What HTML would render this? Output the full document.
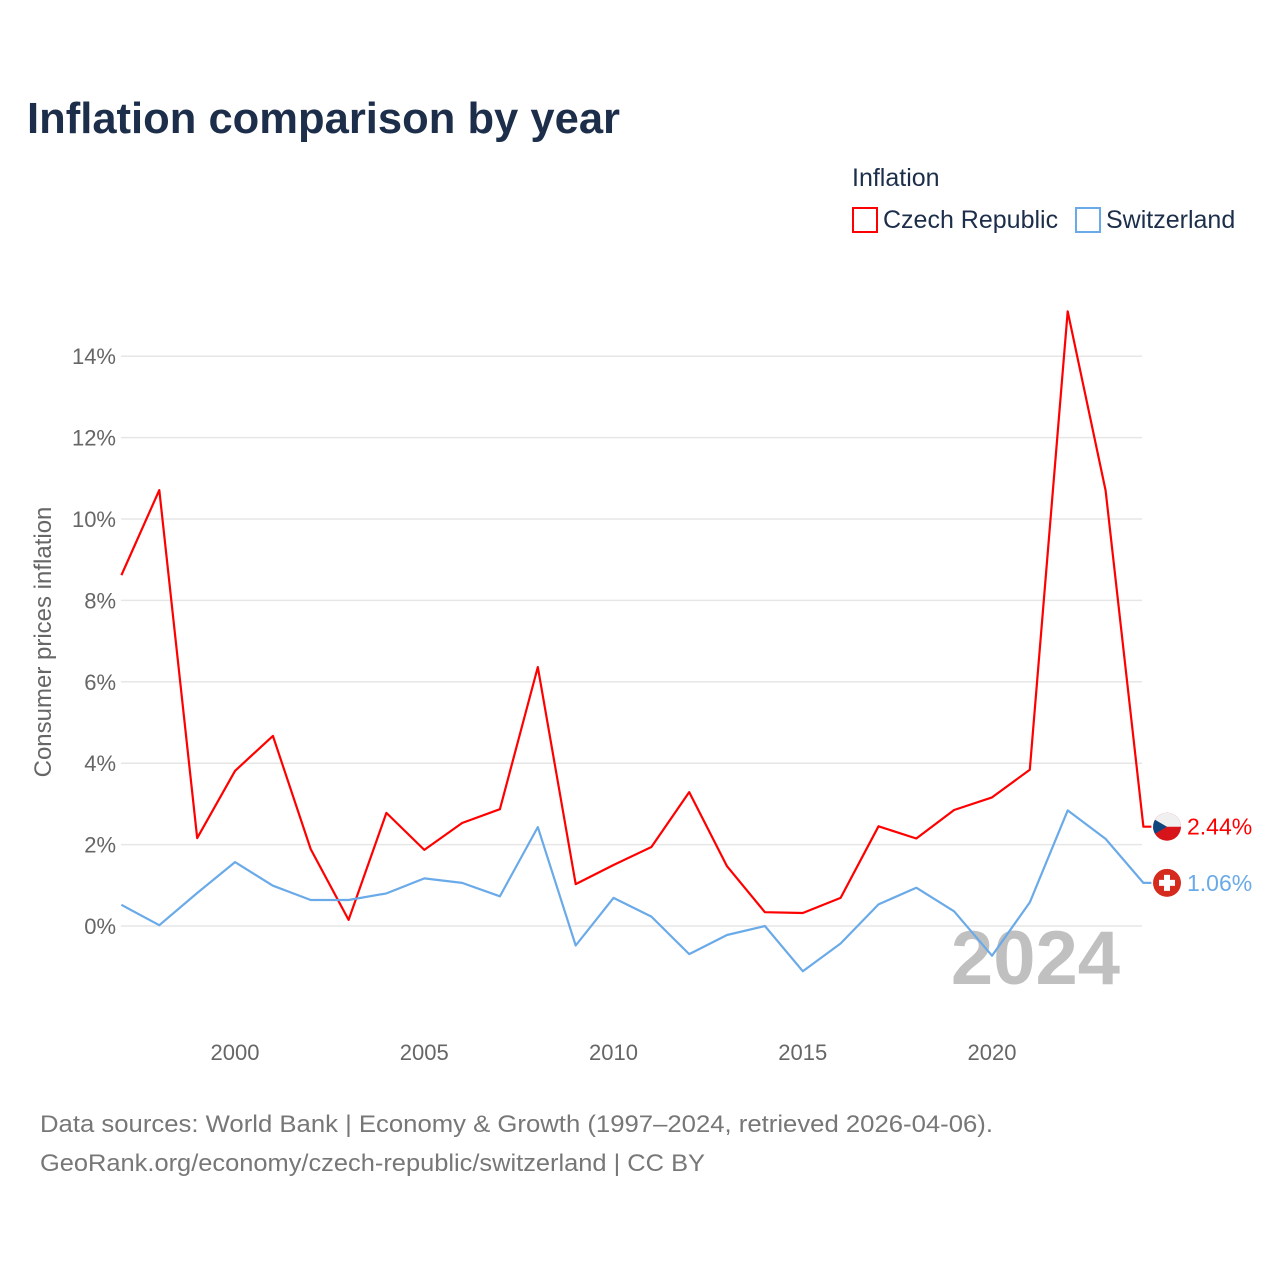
<!DOCTYPE html>
<html><head><meta charset="utf-8">
<style>
body{margin:0;background:#fff;font-family:"Liberation Sans",sans-serif;}
svg text{font-family:"Liberation Sans",sans-serif;}
</style></head>
<body>
<svg width="1280" height="1280" viewBox="0 0 1280 1280">
<text x="27" y="133" font-size="44" font-weight="bold" fill="#1c2e4a" textLength="593" lengthAdjust="spacingAndGlyphs">Inflation comparison by year</text>
<text x="852" y="186" font-size="25" fill="#1c2e4a">Inflation</text>
<g><rect x="853" y="208" width="24" height="24" fill="none" stroke="#ff0000" stroke-width="2"/><text x="883" y="228" font-size="25" fill="#1c2e4a">Czech Republic</text></g>
<g><rect x="1076" y="208" width="24" height="24" fill="none" stroke="#6aaae8" stroke-width="2"/><text x="1106" y="228" font-size="25" fill="#1c2e4a">Switzerland</text></g>
<g id="grid"></g>
<text transform="translate(51,642) rotate(-90)" text-anchor="middle" font-size="24" fill="#666">Consumer prices inflation</text>
<text x="1120" y="984" text-anchor="end" font-size="76" font-weight="bold" fill="#c0c0c0">2024</text>
<g id="series"></g>
<text x="40" y="1132" font-size="24" fill="#777" textLength="953" lengthAdjust="spacingAndGlyphs">Data sources: World Bank | Economy &amp; Growth (1997–2024, retrieved 2026-04-06).</text>
<text x="40" y="1171" font-size="24" fill="#777" textLength="665" lengthAdjust="spacingAndGlyphs">GeoRank.org/economy/czech-republic/switzerland | CC BY</text>
</svg>
<script>
const years=[1997,1998,1999,2000,2001,2002,2003,2004,2005,2006,2007,2008,2009,2010,2011,2012,2013,2014,2015,2016,2017,2018,2019,2020,2021,2022,2023,2024];
const czech=[8.62,10.71,2.16,3.81,4.67,1.89,0.15,2.78,1.87,2.53,2.87,6.36,1.03,1.50,1.94,3.29,1.47,0.34,0.32,0.69,2.45,2.15,2.85,3.16,3.84,15.1,10.7,2.44];
const swiss=[0.52,0.02,0.81,1.57,0.99,0.64,0.64,0.80,1.17,1.06,0.73,2.43,-0.48,0.69,0.23,-0.69,-0.22,0.0,-1.11,-0.43,0.53,0.94,0.36,-0.73,0.58,2.84,2.14,1.06];
const yTicks=[0,2,4,6,8,10,12,14];
const xTicks=[2000,2005,2010,2015,2020];
const NS='http://www.w3.org/2000/svg';
const X=v=>235+(v-2000)*37.85;
const Y=v=>926-v*40.7;
function mk(t,a,p){const e=document.createElementNS(NS,t);for(const k in a)e.setAttribute(k,a[k]);p.appendChild(e);return e;}
const grid=document.getElementById('grid');
yTicks.forEach(t=>{
  const l=mk('line',{x1:121,x2:1142,y1:Y(t),y2:Y(t),stroke:'#e6e6e6','stroke-width':1.5},grid);
  
  
  const tx=mk('text',{x:116,y:Y(t)+8,'text-anchor':'end','font-size':22,fill:'#666'},grid);
  tx.textContent=t+'%';
  
  
});
xTicks.forEach(t=>{
  const tx=mk('text',{x:X(t),y:1060,'text-anchor':'middle','font-size':22,fill:'#666'},grid);
  tx.textContent=t;
  
  
});
const sg=document.getElementById('series');
function line(vals,col,name){
  let d=vals.map((v,i)=>(i?'L':'M')+X(years[i]).toFixed(1)+' '+Y(v).toFixed(1)).join(' ');
  d+=' L'+(X(years[years.length-1])+8).toFixed(1)+' '+Y(vals[vals.length-1]).toFixed(1);
  const p=mk('path',{d:d,fill:'none',stroke:col,'stroke-width':2.2,'stroke-linejoin':'round'},sg);
  
  
}
line(czech,'#ff0000','czech');
line(swiss,'#6aaae8','switzerland');
const cy=Y(czech[czech.length-1]), sy=Y(swiss[swiss.length-1]);
const cf=mk('g',{},sg);


mk('circle',{cx:1167,cy:cy,r:14,fill:'#d7141a'},cf);
mk('path',{d:`M1153 ${cy} A14 14 0 0 1 1181 ${cy} Z`,fill:'#f0f0f0'},cf);
mk('path',{d:`M1155 ${cy-7} L1167 ${cy} L1155 ${cy+7} A14 14 0 0 1 1155 ${cy-7} Z`,fill:'#11457e'},cf);
const ct=mk('text',{x:1187,y:cy+8,'font-size':23,fill:'#ff0000'},sg);
ct.textContent=czech[czech.length-1].toFixed(2)+'%';


const sf=mk('g',{},sg);


mk('circle',{cx:1167,cy:sy,r:14,fill:'#d52b1e'},sf);
mk('rect',{x:1164,y:sy-8,width:6,height:16,fill:'#fff'},sf);
mk('rect',{x:1159,y:sy-3,width:16,height:6,fill:'#fff'},sf);
const st=mk('text',{x:1187,y:sy+8,'font-size':23,fill:'#6aaae8'},sg);
st.textContent=swiss[swiss.length-1].toFixed(2)+'%';


</script>
</body></html>
